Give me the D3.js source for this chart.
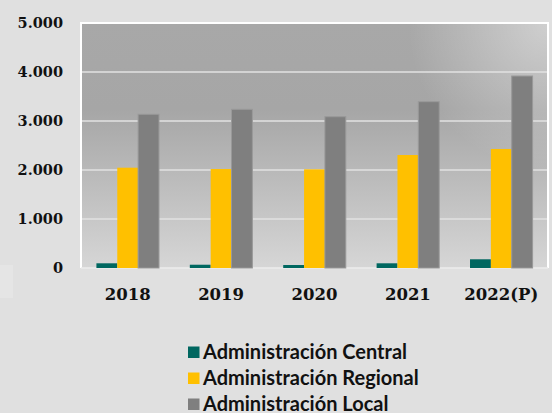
<!DOCTYPE html>
<html>
<head>
<meta charset="utf-8">
<title>Administraciones</title>
<script src="https://d3js.org/d3.v7.min.js"></script>
<style>
  body { margin: 0; background: #e0e0e0; }
  svg { display: block; }
</style>
</head>
<body>
<div id="chart"></div>
<script>
var years = ["2018", "2019", "2020", "2021", "2022(P)"];
var seriesNames = ["Administración Central", "Administración Regional", "Administración Local"];
var central = [96, 67, 61, 96, 178];
var regional = [2047, 2020, 2014, 2306, 2429];
var local = [3137, 3238, 3088, 3394, 3918];
var yTicks = [0, 1000, 2000, 3000, 4000, 5000];
var colors = ["#006760", "#ffc000", "#7f7f7f"];

var width = 552, height = 413;
var margin = {top: 23, right: 4, bottom: 145, left: 81};
var plotW = width - margin.left - margin.right;
var plotH = height - margin.top - margin.bottom;

var svg = d3.select("#chart").append("svg")
  .attr("width", width)
  .attr("height", height);

svg.append("rect").attr("width", width).attr("height", height).attr("fill", "#e0e0e0");
svg.append("rect").attr("x", 0).attr("y", 265).attr("width", 13).attr("height", 33).attr("fill", "#e5e5e5");

var defs = svg.append("defs");
var lg = defs.append("linearGradient").attr("id", "plotbg")
  .attr("x1", 0).attr("y1", 0).attr("x2", 0).attr("y2", 1);
lg.append("stop").attr("offset", "0%").attr("stop-color", "#a8a8a8");
lg.append("stop").attr("offset", "35%").attr("stop-color", "#a6a6a6");
lg.append("stop").attr("offset", "100%").attr("stop-color", "#d6d6d6");
var rg = defs.append("radialGradient").attr("id", "shine")
  .attr("cx", 1).attr("cy", 0).attr("r", 0.6).attr("fx", 1).attr("fy", 0)
  .attr("gradientTransform", "translate(0.5,0) scale(0.5,1) translate(-0.5,0) translate(0.5,0)");
rg.append("stop").attr("offset", "0%").attr("stop-color", "#fff").attr("stop-opacity", 0.45);
rg.append("stop").attr("offset", "100%").attr("stop-color", "#fff").attr("stop-opacity", 0);

var g = svg.append("g").attr("transform", "translate(" + margin.left + "," + margin.top + ")");

var x0 = d3.scaleBand().domain(years).range([0, plotW]).paddingInner(0.33).paddingOuter(0.165);
var x1 = d3.scaleBand().domain(d3.range(3)).range([0, x0.bandwidth()]);
var y = d3.scaleLinear().domain([0, 5000]).range([plotH, 0]);

g.append("rect").attr("width", plotW).attr("height", plotH).attr("fill", "url(#plotbg)");
g.append("rect").attr("width", plotW).attr("height", plotH).attr("fill", "url(#shine)");

// gridlines
g.selectAll(".grid").data(yTicks.slice(1, 5)).enter().append("line")
  .attr("x1", 0).attr("x2", plotW)
  .attr("y1", function(d){ return y(d); }).attr("y2", function(d){ return y(d); })
  .attr("stroke", "#e2e2e2").attr("stroke-width", 1.5);

// border
g.append("path")
  .attr("d", "M0," + plotH + "V0H" + plotW + "V" + plotH)
  .attr("fill", "none").attr("stroke", "#ffffff").attr("stroke-width", 2);
g.append("line").attr("x1", 0).attr("x2", plotW).attr("y1", plotH).attr("y2", plotH)
  .attr("stroke", "#ececec").attr("stroke-width", 1.5);

var allSeries = [central, regional, local];
var groups = g.selectAll(".yr").data(years).enter().append("g")
  .attr("transform", function(d){ return "translate(" + x0(d) + ",0)"; });
groups.selectAll("rect").data(function(d, i){ return allSeries.map(function(s, k){ return {k: k, v: s[i]}; }); })
  .enter().append("rect")
  .attr("x", function(d){ return x1(d.k); })
  .attr("width", x1.bandwidth())
  .attr("y", function(d){ return y(d.v); })
  .attr("height", function(d){ return plotH - y(d.v); })
  .attr("fill", function(d){ return colors[d.k]; })
  .attr("stroke", function(d){ return d.k == 2 ? "#999999" : "none"; })
  .attr("stroke-width", 1);

// y axis labels
var fmt = function(d){ return d3.format(",")(d).replace(/,/g, "."); };
var yAxis = g.append("g").call(d3.axisLeft(y).tickValues(yTicks).tickFormat(fmt).tickSize(0).tickPadding(18));
yAxis.select(".domain").remove();
yAxis.selectAll("text")
  .attr("font-family", "'DejaVu Serif', serif").attr("font-weight", "bold")
  .attr("font-size", "14.5px").attr("fill", "#111");

// x axis labels
var xAxis = g.append("g").attr("transform", "translate(0," + plotH + ")")
  .call(d3.axisBottom(x0).tickSize(0).tickPadding(20));
xAxis.select(".domain").remove();
xAxis.selectAll("text")
  .attr("font-family", "'DejaVu Serif', serif").attr("font-weight", "bold")
  .attr("font-size", "16.5px").attr("fill", "#111");

// legend
var legend = svg.append("g").attr("transform", "translate(188,346.5)");
var items = legend.selectAll("g").data(seriesNames).enter().append("g")
  .attr("transform", function(d, i){ return "translate(0," + (i * 26) + ")"; });
items.append("rect").attr("width", 11.5).attr("height", 11.5)
  .attr("fill", function(d, i){ return colors[i]; });
items.append("text").attr("x", 15).attr("y", 5.5).attr("dy", "0.34em")
  .attr("font-family", "Lato, sans-serif").attr("font-weight", "bold")
  .attr("font-size", "20px").attr("fill", "#111")
  .text(function(d){ return d; });
</script>
</body>
</html>
